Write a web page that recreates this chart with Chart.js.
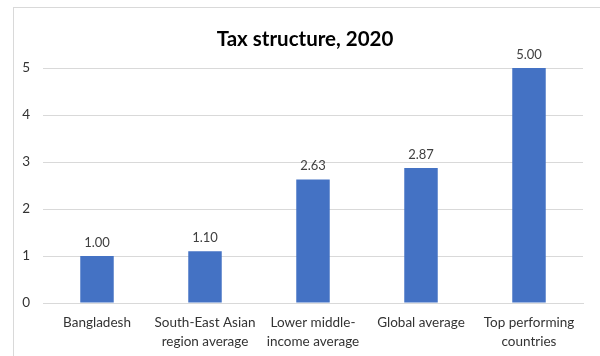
<!DOCTYPE html>
<html>
<head>
<meta charset="utf-8">
<script src="https://cdn.jsdelivr.net/npm/chart.js@4/dist/chart.umd.min.js"></script>
<style>
  body { margin: 0; background: #fff; }
  #wrap { position: relative; width: 600px; height: 356px; overflow: hidden; }
  #frame { position: absolute; left: 13px; top: 7px; width: 700px; height: 500px; border: 1px solid #d9d9d9; }
  #chart { position: absolute; left: 0; top: 0; }
</style>
</head>
<body>
<div id="wrap">
  <div id="frame"></div>
  <canvas id="chart" width="600" height="356"></canvas>
</div>
<script>
const categories = [
   "Bangladesh",
   ["South-East Asian", "region average"],
   ["Lower middle-", "income average"],
   "Global average",
   ["Top performing", "countries"],
];
const values = [1.0, 1.1, 2.63, 2.87, 5.0];
const yTicks = [0, 1, 2, 3, 4, 5];
const chartTitle = "Tax structure, 2020";

const fontFamily = "Lato, 'Open Sans', sans-serif";

// title and value labels above each bar
const labelsPlugin = {
   id: "labelsPlugin",
   afterDatasetsDraw(chart) {
      const ctx = chart.ctx;
      const meta = chart.getDatasetMeta(0);
      ctx.save();
      ctx.font = "13px " + fontFamily;
      ctx.fillStyle = "#404040";
      ctx.textAlign = "center";
      ctx.textBaseline = "bottom";
      meta.data.forEach((bar, i) => {
         ctx.fillText(values[i].toFixed(2), bar.x, bar.y - 7);
      });
      ctx.font = "bold 20.5px " + fontFamily;
      ctx.fillStyle = "#000";
      ctx.textBaseline = "middle";
      ctx.fillText(chartTitle, 305, 39);
      ctx.restore();
   },
};

new Chart(document.getElementById("chart"), {
   type: "bar",
   data: {
      labels: categories,
      datasets: [
         {
            data: values,
            backgroundColor: "#4472c4",
            categoryPercentage: 1,
            barPercentage: 0.31,
         },
      ],
   },
   plugins: [labelsPlugin],
   options: {
      responsive: false,
      animation: false,
      layout: { padding: { left: 13, right: 17, top: 68, bottom: 0 } },
      plugins: {
         legend: { display: false },
         tooltip: { enabled: false },
      },
      scales: {
         x: {
            grid: { display: false, drawTicks: false },
            border: { color: "#d9d9d9" },
            ticks: {
               color: "#333",
               font: { family: fontFamily, size: 13.5, lineHeight: 1.4 },
               padding: 10,
               maxRotation: 0,
               autoSkip: false,
            },
            afterFit(scale) { scale.height = 53; },
         },
         y: {
            min: 0,
            max: 5,
            afterBuildTicks(scale) { scale.ticks = yTicks.map((v) => ({ value: v })); },
            grid: { color: "#d9d9d9", drawTicks: false },
            border: { display: false },
            ticks: {
               color: "#333",
               font: { family: fontFamily, size: 13.5 },
               padding: 13,
            },
            afterFit(scale) { scale.width = 30; },
         },
      },
   },
});
</script>
</body>
</html>
